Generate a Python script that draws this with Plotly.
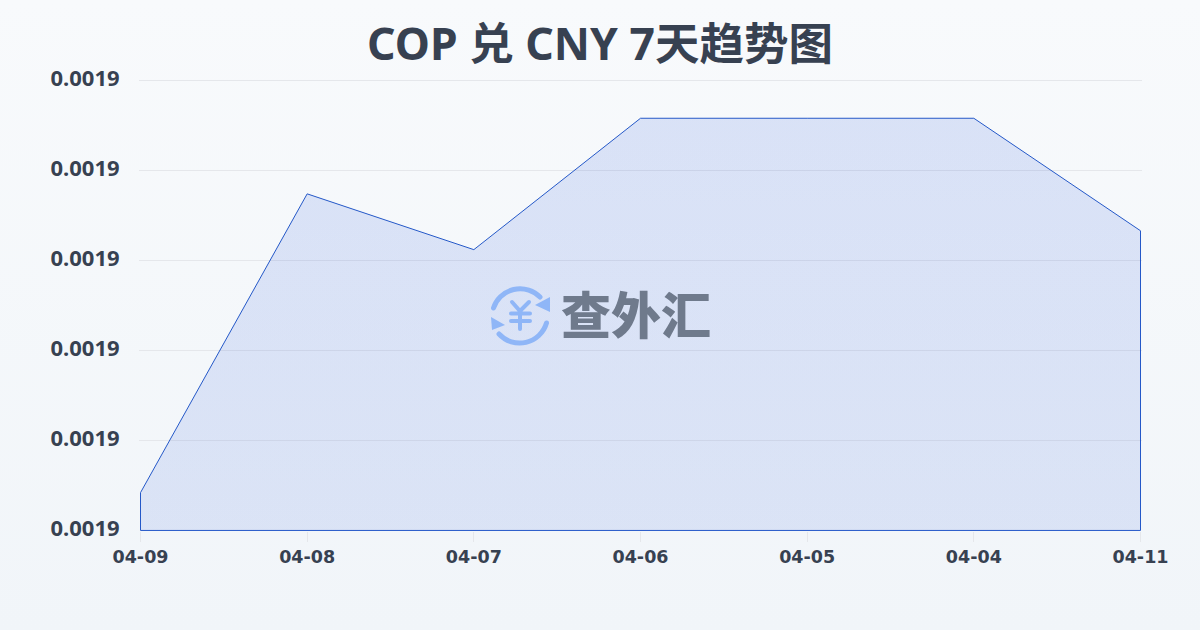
import base64
import plotly.graph_objects as go

title = "COP 兑 CNY 7天趋势图"
dates = ["04-09", "04-08", "04-07", "04-06", "04-05", "04-04", "04-11"]
rates = [0.001900415, 0.001903735, 0.001903115, 0.001904575, 0.001904575, 0.001904575, 0.001903325]
y_ticks = [0.0019, 0.001901, 0.001902, 0.001903, 0.001904, 0.001905]
y_low = 0.00189998889
y_ceiling = 0.00190502222
y_base = 0.001899995
watermark = "查外汇"

PLOT_L, PLOT_T, PLOT_W, PLOT_H = 139, 78, 1003, 453


def px(x):
    return (x - PLOT_L) / PLOT_W


def py(y):
    return 1 - (y - PLOT_T) / PLOT_H


def svg_uri(svg):
    return "data:image/svg+xml;base64," + base64.b64encode(svg.encode()).decode()


bg_svg = (
    '<svg xmlns="http://www.w3.org/2000/svg" width="1200" height="630">'
    '<defs><linearGradient id="g" x1="0" y1="0" x2="0" y2="1">'
    '<stop offset="0" stop-color="#f8fafc"/><stop offset="1" stop-color="#f1f5f9"/>'
    '</linearGradient></defs><rect width="1200" height="630" fill="url(#g)"/></svg>'
)
logo_svg = (
    '<svg xmlns="http://www.w3.org/2000/svg" width="70" height="70" viewBox="485 280 70 70">'
    '<g fill="none" stroke="#8fb6f7" stroke-width="5" stroke-linecap="round">'
    '<path d="M493.5 308 A28 28 0 0 1 540 297"/>'
    '<path d="M546.5 323 A28 28 0 0 1 499 334"/>'
    '<path stroke-width="4" d="M512 302 L520 311 L529 302 M511 313.5 H530 M511 321 H530 M520 311 V329"/>'
    '</g><g fill="#8fb6f7">'
    '<path d="M550 297 L550 312 L535 305 Z"/><path d="M491 317 L505 325 L492 330 Z"/>'
    '</g></svg>'
)

fig = go.Figure()
fig.add_trace(go.Scatter(
    x=dates + [dates[-1], dates[0], dates[0]],
    y=rates + [y_base, y_base, rates[0]],
    mode="lines",
    line=dict(color="#2458c8", width=1),
    fill="toself",
    fillgradient=dict(
        type="vertical",
        colorscale=[[0, "rgba(29,78,216,0.11)"], [1, "rgba(29,78,216,0.135)"]],
    ),
    hoverinfo="skip",
    showlegend=False,
))

fig.update_layout(
    width=1200,
    height=630,
    margin=dict(l=PLOT_L, r=1200 - PLOT_L - PLOT_W, t=PLOT_T, b=630 - PLOT_T - PLOT_H),
    paper_bgcolor="#f8fafc",
    plot_bgcolor="rgba(0,0,0,0)",
    font=dict(family="'Noto Sans', 'Noto Sans CJK SC', sans-serif", color="#374151"),
    title=dict(
        text=title,
        x=0.5,
        xanchor="center",
        y=0.93,
        yanchor="middle",
        font=dict(family="'Noto Sans', 'Noto Sans CJK SC', sans-serif", size=44.5, weight="bold", color="#374151"),
    ),
    xaxis=dict(
        type="category",
        categoryorder="array",
        categoryarray=dates,
        range=[-0.009, 6.009],
        showgrid=False,
        zeroline=False,
        showline=False,
        ticks="outside",
        ticklen=10,
        tickwidth=1,
        tickcolor="#e5e7eb",
        tickfont=dict(family="'DejaVu Sans', sans-serif", size=17.5, weight="bold", color="#374151"),
    ),
    yaxis=dict(
        range=[y_low, y_ceiling],
        tickvals=y_ticks,
        tickformat=".4f",
        showgrid=True,
        gridcolor="#e5e7eb",
        gridwidth=1,
        zeroline=False,
        showline=False,
        ticks="outside",
        ticklen=14,
        tickcolor="rgba(0,0,0,0)",
        ticklabelshift=-2,
        tickfont=dict(family="'Noto Sans', sans-serif", size=22, weight="bold", color="#374151"),
    ),
    images=[
        dict(source=svg_uri(bg_svg), xref="paper", yref="paper", x=px(0), y=py(0),
             sizex=1200 / PLOT_W, sizey=630 / PLOT_H, xanchor="left", yanchor="top",
             sizing="stretch", layer="below"),
        dict(source=svg_uri(logo_svg), xref="paper", yref="paper", x=px(485), y=py(280),
             sizex=70 / PLOT_W, sizey=70 / PLOT_H, xanchor="left", yanchor="top",
             sizing="stretch", layer="above"),
    ],
    annotations=[
        dict(text=watermark, xref="paper", yref="paper",
             x=px(636), y=py(312), xanchor="center", yanchor="middle",
             showarrow=False,
             font=dict(family="'Noto Sans CJK SC', sans-serif", size=50, weight=900, color="#6f7a8c")),
    ],
)

fig.write_html("out.html", config={"displayModeBar": False}, post_script="document.body.style.margin='0';")
